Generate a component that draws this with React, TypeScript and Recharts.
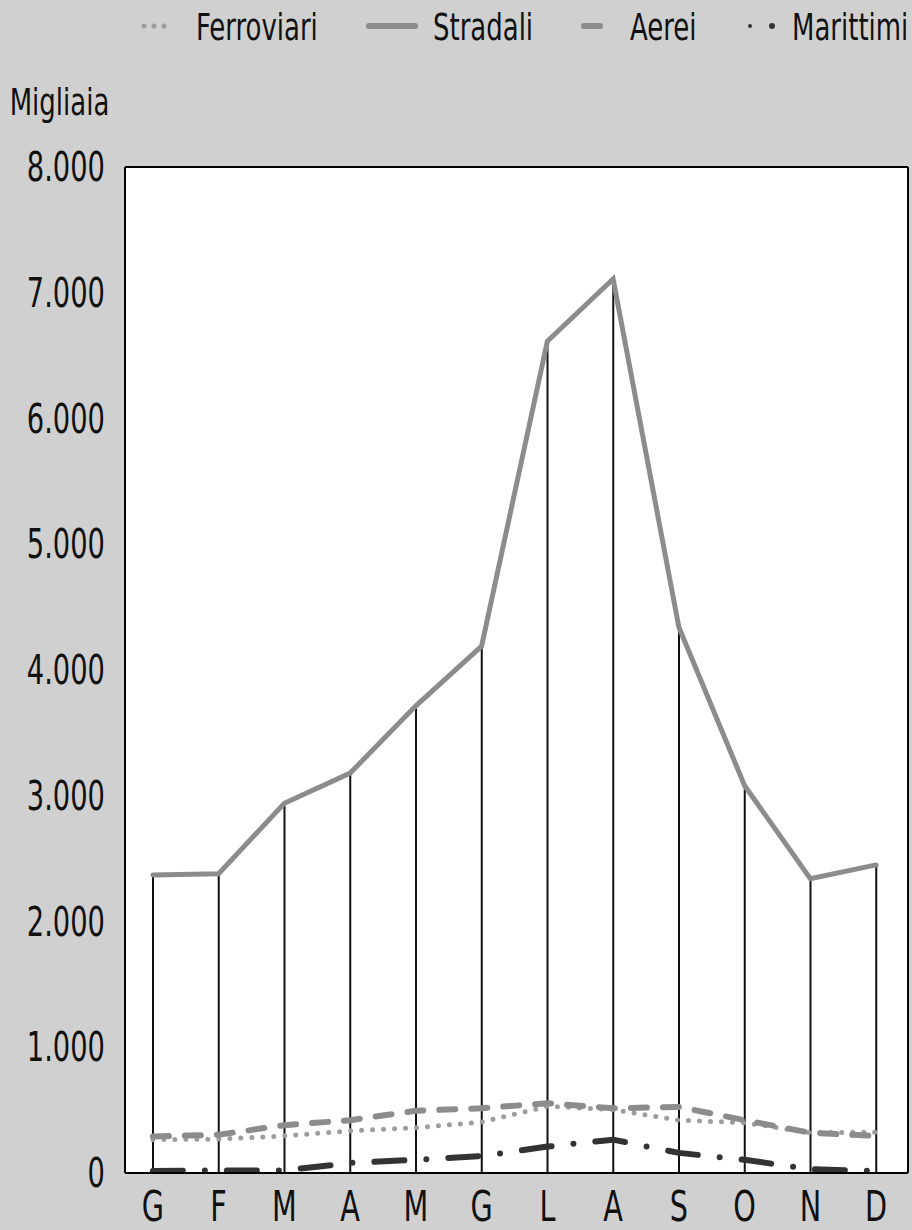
import { ComposedChart, Line, Bar, XAxis, YAxis, CartesianGrid, Legend } from "recharts";

const FONT = "'DejaVu Sans Condensed', 'DejaVu Sans', sans-serif";
const SQUEEZE = 0.76;

const mesi = ["G", "F", "M", "A", "M", "G", "L", "A", "S", "O", "N", "D"];
const ferroviari = [265, 270, 295, 335, 360, 405, 530, 505, 420, 400, 320, 325];
const stradali = [2370, 2380, 2940, 3180, 3715, 4190, 6615, 7110, 4340, 3080, 2340, 2450];
const aerei = [290, 305, 380, 420, 495, 515, 555, 515, 525, 420, 320, 295];
const marittimi = [15, 20, 20, 80, 105, 135, 210, 265, 160, 105, 30, 15];
const yTicks = [0, 1000, 2000, 3000, 4000, 5000, 6000, 7000, 8000];

const data = mesi.map((m, i) => ({
  mese: m,
  Ferroviari: ferroviari[i],
  Stradali: stradali[i],
  Aerei: aerei[i],
  Marittimi: marittimi[i],
}));

const series = [
  { key: "Ferroviari", color: "#9d9d9d", width: 5, dash: "0 11", mx: 140, mw: 38, tx: 196 },
  { key: "Stradali", color: "#8c8c8c", width: 5, dash: undefined, mx: 366, mw: 52, tx: 433 },
  { key: "Aerei", color: "#8c8c8c", width: 6, dash: "16 16", mx: 581, mw: 22, tx: 630 },
  { key: "Marittimi", color: "#333333", width: 6, dash: "30 22 0 22", mx: 744, mw: 34, tx: 792 },
];

const fmt = (v: number) => (v === 0 ? "0" : `${v / 1000}.000`);

// narrow text: the original lettering is a condensed face
function Narrow({ x, y, anchor, size, dy, children }: any) {
  return (
    <text transform={`translate(${x},${y}) scale(${SQUEEZE},1)`} textAnchor={anchor} fontSize={size} fontFamily={FONT} fill="#111" dy={dy}>
      {children}
    </text>
  );
}

const YTick = (p: any) => (
  <Narrow x={p.x} y={p.y} anchor="end" size={40} dy="0.355em">
    {fmt(p.payload.value)}
  </Narrow>
);

const XTick = (p: any) => (
  <Narrow x={p.x} y={p.y} anchor="middle" size={42} dy="0.71em">
    {p.payload.value}
  </Narrow>
);

const YLabel = (p: any) => {
  const vb = p.viewBox;
  return (
    <Narrow x={vb.x + vb.width / 2 - 3} y={vb.y - 52} anchor="middle" size={38}>
      Migliaia
    </Narrow>
  );
};

function Marker({ s }: { s: (typeof series)[number] }) {
  const y = 26;
  if (s.key === "Ferroviari")
    return <line x1={s.mx + 4} y1={y} x2={s.mx + s.mw - 4} y2={y} stroke={s.color} strokeWidth={5} strokeDasharray="0 10" strokeLinecap="round" />;
  if (s.key === "Marittimi")
    return (
      <g fill={s.color}>
        <circle cx={s.mx + 6} cy={y} r={2} />
        <circle cx={s.mx + s.mw - 6} cy={y} r={3} />
      </g>
    );
  return <line x1={s.mx + 3} y1={y} x2={s.mx + s.mw - 3} y2={y} stroke={s.color} strokeWidth={6} strokeLinecap="round" />;
}

function Leggenda() {
  return (
    <svg width={912} height={50} style={{ display: "block" }}>
      {series.map((s) => (
        <g key={s.key}>
          <Marker s={s} />
          <Narrow x={s.tx} y={40} anchor="start" size={38}>
            {s.key}
          </Narrow>
        </g>
      ))}
    </svg>
  );
}

export default function App() {
  return (
    <div style={{ position: "absolute", left: 0, top: 0, width: 912, height: 1230, background: "#d0d0d0" }}>
      <ComposedChart width={912} height={1230} data={data} margin={{ top: 167, right: 4, bottom: 0, left: 0 }}>
        <CartesianGrid
          fill="#ffffff"
          fillOpacity={1}
          stroke="#000"
          strokeWidth={2}
          horizontalCoordinatesGenerator={({ offset }: any) => [offset.top, offset.top + offset.height]}
          verticalCoordinatesGenerator={({ offset }: any) => [offset.left, offset.left + offset.width]}
        />
        <XAxis
          dataKey="mese"
          padding={{ left: -5, right: -1 }}
          height={57}
          tickLine={false}
          tickSize={0}
          tickMargin={18}
          axisLine={{ stroke: "#000", strokeWidth: 2 }}
          tick={<XTick />}
          interval={0}
        />
        <YAxis
          width={125}
          domain={[0, 8000]}
          ticks={yTicks}
          tickLine={false}
          tickSize={0}
          tickMargin={20}
          axisLine={{ stroke: "#000", strokeWidth: 2 }}
          tick={<YTick />}
          label={<YLabel />}
        />
        <Bar dataKey="Stradali" barSize={2} fill="#111" isAnimationActive={false} legendType="none" />
        {series.map((s) => (
          <Line
            key={s.key}
            type="linear"
            dataKey={s.key}
            stroke={s.color}
            strokeWidth={s.width}
            strokeDasharray={s.dash}
            strokeLinecap="round"
            dot={false}
            activeDot={false}
            isAnimationActive={false}
          />
        ))}
        <Legend
          verticalAlign="middle"
          align="center"
          layout="horizontal"
          wrapperStyle={{ top: 0, left: 0, width: 912, height: 50 }}
          content={() => <Leggenda />}
        />
      </ComposedChart>
    </div>
  );
}
